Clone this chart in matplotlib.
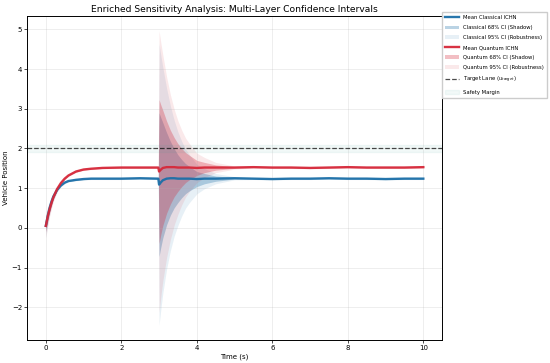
import numpy as np
import matplotlib.pyplot as plt

# sample times (s) and values
t_pts = [0.0, 0.05, 0.1, 0.15, 0.2, 0.3, 0.4, 0.5, 0.6, 0.8,
         1.0, 1.2, 1.5, 2.0, 2.5, 2.98, 3.0, 3.05, 3.1, 3.2,
         3.3, 3.4, 3.5, 3.6, 3.7, 3.8, 4.0, 4.2, 4.5, 5.0,
         5.5, 6.0, 6.5, 7.0, 7.5, 8.0, 8.5, 9.0, 9.5, 10.0]

mean_classical = [0.05, 0.30, 0.50, 0.66, 0.79, 0.96, 1.07, 1.14, 1.18, 1.21,
                  1.23, 1.24, 1.24, 1.24, 1.25, 1.24, 1.09, 1.15, 1.20, 1.24,
                  1.25, 1.25, 1.24, 1.24, 1.24, 1.24, 1.23, 1.24, 1.24, 1.25,
                  1.24, 1.23, 1.24, 1.24, 1.25, 1.24, 1.24, 1.23, 1.24, 1.24]

mean_quantum = [0.05, 0.28, 0.47, 0.63, 0.77, 0.98, 1.13, 1.24, 1.32, 1.42,
                1.47, 1.49, 1.51, 1.52, 1.52, 1.52, 1.42, 1.47, 1.51, 1.53,
                1.53, 1.53, 1.52, 1.52, 1.52, 1.52, 1.51, 1.52, 1.52, 1.52,
                1.53, 1.52, 1.52, 1.51, 1.52, 1.53, 1.52, 1.52, 1.52, 1.53]

# standard deviation of the runs (68% = 1 sigma, 95% = 1.96 sigma)
sigma_classical = [0.15, 0.12, 0.09, 0.07, 0.05, 0.03, 0.02, 0.015, 0.012, 0.012,
                   0.012, 0.012, 0.012, 0.012, 0.012, 0.012, 1.81, 1.62, 1.45, 1.16,
                   0.93, 0.745, 0.60, 0.48, 0.38, 0.31, 0.19, 0.13, 0.066, 0.02,
                   0.012, 0.012, 0.012, 0.012, 0.012, 0.012, 0.012, 0.012, 0.012, 0.012]
sigma_quantum = sigma_classical

target_lane = 2.0
margin = 0.1

c_col = '#1b6fa8'
q_col = '#d62839'

t = np.array(t_pts)
mc, mq = np.array(mean_classical), np.array(mean_quantum)
sc, sq = np.array(sigma_classical), np.array(sigma_quantum)

fig = plt.figure(figsize=(5.5, 3.63), dpi=100)
ax = fig.add_axes([0.049, 0.063, 0.755, 0.893])

ax.plot(t, mc, color=c_col, lw=1.7, alpha=0.95, label='Mean Classical ICHN')
ax.fill_between(t, mc - sc, mc + sc, color=c_col, alpha=0.3, lw=0, label='Classical 68% CI (Shadow)')
ax.fill_between(t, mc - 1.96*sc, mc + 1.96*sc, color=c_col, alpha=0.1, lw=0, label='Classical 95% CI (Robustness)')

ax.plot(t, mq, color=q_col, lw=1.7, alpha=0.95, label='Mean Quantum ICHN')
ax.fill_between(t, mq - sq, mq + sq, color=q_col, alpha=0.3, lw=0, label='Quantum 68% CI (Shadow)')
ax.fill_between(t, mq - 1.96*sq, mq + 1.96*sq, color=q_col, alpha=0.1, lw=0, label='Quantum 95% CI (Robustness)')

ax.axhline(target_lane, color='black', ls='--', lw=0.9, alpha=0.7, label=r'Target Lane ($u_{target}$)')
ax.axhspan(target_lane - margin, target_lane + margin, color='#2a9d8f', alpha=0.06, label='Safety Margin')

ax.set_title('Enriched Sensitivity Analysis: Multi-Layer Confidence Intervals', fontsize=6.6, pad=3)
ax.set_xlabel('Time (s)', fontsize=5, labelpad=2)
ax.set_ylabel('Vehicle Position', fontsize=5, labelpad=2)
ax.tick_params(axis='both', labelsize=5, length=2, width=0.5, pad=1.5)
ax.grid(True, alpha=0.3, lw=0.5)
for s in ax.spines.values():
    s.set_linewidth(0.7)

ax.legend(loc='upper left', bbox_to_anchor=(1.0, 1.012), borderaxespad=0,
          fontsize=3.75, labelspacing=0.95, handlelength=2.7, handletextpad=0.6,
          borderpad=0.6, framealpha=1, fancybox=False, edgecolor='#cccccc')

plt.savefig('out.png', dpi=100)
